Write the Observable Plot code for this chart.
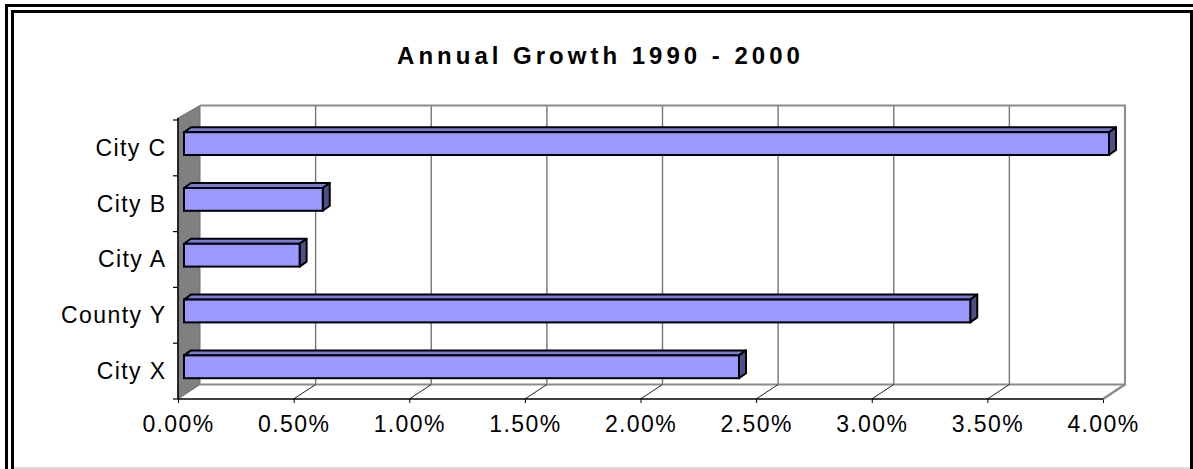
<!DOCTYPE html>
<html><head><meta charset="utf-8">
<script src="https://cdn.jsdelivr.net/npm/d3@7"></script>
<script src="https://cdn.jsdelivr.net/npm/@observablehq/plot@0.6"></script>
<style>
html,body{margin:0;padding:0;background:#fff;}
#wrap{position:relative;width:1193px;height:469px;overflow:hidden;background:#fff;font-family:"Liberation Sans",Arial,sans-serif;}
#chart{position:absolute;left:0;top:0;}
.ln{position:absolute;background:#000;}
#title{position:absolute;left:4px;width:1193px;top:42px;line-height:28px;text-align:center;font-weight:bold;font-size:24px;letter-spacing:4px;color:#000;}
</style></head><body>
<div id="wrap">
  <div id="chart"></div>
  <div class="ln" style="left:5px;top:4px;width:1188px;height:3px"></div>
  <div class="ln" style="left:5px;top:4px;width:3px;height:465px"></div>
  <div class="ln" style="left:11px;top:10px;width:1182px;height:3px"></div>
  <div class="ln" style="left:11px;top:10px;width:3px;height:459px"></div>
  <div class="ln" style="left:1190px;top:10px;width:3px;height:459px"></div>
  <div style="position:absolute;left:14px;top:467px;width:1176px;height:2px;background:#dcdcdc"></div>
  <div id="title"></div>
</div>
<script>
// ---- data ----
const titleText = "Annual Growth 1990 - 2000";
const categories = ["City C", "City B", "City A", "County Y", "City X"];
const growth = [0.040, 0.006, 0.005, 0.034, 0.024];
const xTicks = [0, 0.005, 0.01, 0.015, 0.02, 0.025, 0.03, 0.035, 0.04];

const data = categories.map((c, i) => ({category: c, value: growth[i]}));
document.getElementById("title").textContent = titleText;

// ---- 3D styling constants ----
const WALL_DX = 22, WALL_DY = -14.5;     // depth of the box
const BAR_FX = 6, BAR_FY = -4.3;         // bar front plane offset
const BAR_BX = 7, BAR_BY = -5;           // bar depth
const BAR_INSET = 16.5;
const FRONT = "#9999ff", TOP = "#7b7bd6", SIDE = "#4f4f88";

function bw(y, dims) {
  if (y.bandwidth) return y.bandwidth();
  return (dims.height - dims.marginTop - dims.marginBottom) / categories.length;
}

function box3d(index, scales, values, dims) {
  const {x, y} = scales;
  const b = bw(y, dims);
  const x0 = x(xTicks[0]), x1 = x(xTicks[xTicks.length - 1]);
  const yT = y(categories[0]), yB = y(categories[categories.length - 1]) + b;
  const g = d3.create("svg:g").attr("fill", "none");
  // left wall
  g.append("path").attr("fill", "#808080").attr("stroke", "#6e6e6e").attr("stroke-width", 1)
    .attr("d", `M${x0},${yT - 2}L${x0 + WALL_DX},${yT + WALL_DY}L${x0 + WALL_DX},${yB + WALL_DY}L${x0},${yB}Z`);
  // back wall gridlines
  xTicks.slice(1, -1).forEach(t => {
    g.append("line").attr("stroke", "#777").attr("stroke-width", 1.4)
      .attr("x1", x(t) + WALL_DX).attr("x2", x(t) + WALL_DX)
      .attr("y1", yT + WALL_DY).attr("y2", yB + WALL_DY);
  });
  // back wall border top/right/bottom
  g.append("path").attr("stroke", "#8c8c8c").attr("stroke-width", 2)
    .attr("d", `M${x0 + WALL_DX},${yT + WALL_DY}L${x1 + WALL_DX},${yT + WALL_DY}L${x1 + WALL_DX},${yB + WALL_DY}L${x0 + WALL_DX},${yB + WALL_DY}`);
  // floor diagonals
  xTicks.slice(1, -1).forEach(t => {
    g.append("line").attr("stroke", "#222").attr("stroke-width", 1)
      .attr("x1", x(t)).attr("y1", yB).attr("x2", x(t) + WALL_DX).attr("y2", yB + WALL_DY);
  });
  g.append("line").attr("stroke", "#8c8c8c").attr("stroke-width", 2.5)
    .attr("x1", x1).attr("y1", yB).attr("x2", x1 + WALL_DX).attr("y2", yB + WALL_DY);
  // axes lines
  g.append("line").attr("stroke", "#000").attr("stroke-width", 1.5)
    .attr("x1", x0).attr("x2", x0).attr("y1", yT - 2).attr("y2", yB);
  g.append("line").attr("stroke", "#000").attr("stroke-width", 1.5)
    .attr("x1", x0).attr("x2", x1).attr("y1", yB).attr("y2", yB);
  // y category boundary ticks
  categories.forEach((c, i) => {
    g.append("line").attr("stroke", "#000").attr("stroke-width", 1.2)
      .attr("x1", x0 - 5).attr("x2", x0).attr("y1", y(c)).attr("y2", y(c));
  });
  g.append("line").attr("stroke", "#000").attr("stroke-width", 1.2)
    .attr("x1", x0 - 5).attr("x2", x0).attr("y1", yB).attr("y2", yB);
  return g.node();
}

function barFaces(index, scales, values, dims) {
  const {x, y} = scales;
  const b = bw(y, dims);
  const g = d3.create("svg:g").attr("stroke", "#000").attr("stroke-width", 2).attr("stroke-linejoin", "round");
  data.forEach(d => {
    const xa = x(0) + BAR_FX, xb = x(d.value) + BAR_FX;
    const ya = y(d.category) + BAR_INSET + BAR_FY, yb = y(d.category) + b - BAR_INSET + BAR_FY;
    g.append("path").attr("fill", TOP)
      .attr("d", `M${xa},${ya}L${xb},${ya}L${xb + BAR_BX},${ya + BAR_BY}L${xa + BAR_BX},${ya + BAR_BY}Z`);
    g.append("path").attr("fill", SIDE)
      .attr("d", `M${xb},${ya}L${xb + BAR_BX},${ya + BAR_BY}L${xb + BAR_BX},${yb + BAR_BY}L${xb},${yb}Z`);
  });
  return g.node();
}

const chart = Plot.plot({
  width: 1193,
  height: 469,
  marginLeft: 178,
  marginRight: 90,
  marginTop: 120,
  marginBottom: 70,
  style: {fontSize: "23px", fontFamily: "'Liberation Sans', Arial, sans-serif", letterSpacing: "1.4px", background: "transparent", color: "#000"},
  x: {domain: [0, 0.04], ticks: xTicks, tickFormat: d3.format(".2%"), tickSize: 4, tickPadding: 12, label: null},
  y: {domain: categories, padding: 0, round: false, tickSize: 0, tickPadding: 12, label: null},
  marks: [
    box3d,
    barFaces,
    Plot.barX(data, {x: "value", y: "category", fill: FRONT, stroke: "#000", strokeWidth: 2,
      insetTop: BAR_INSET, insetBottom: BAR_INSET, dx: BAR_FX, dy: BAR_FY})
  ]
});
document.getElementById("chart").appendChild(chart);
</script>
</body></html>
